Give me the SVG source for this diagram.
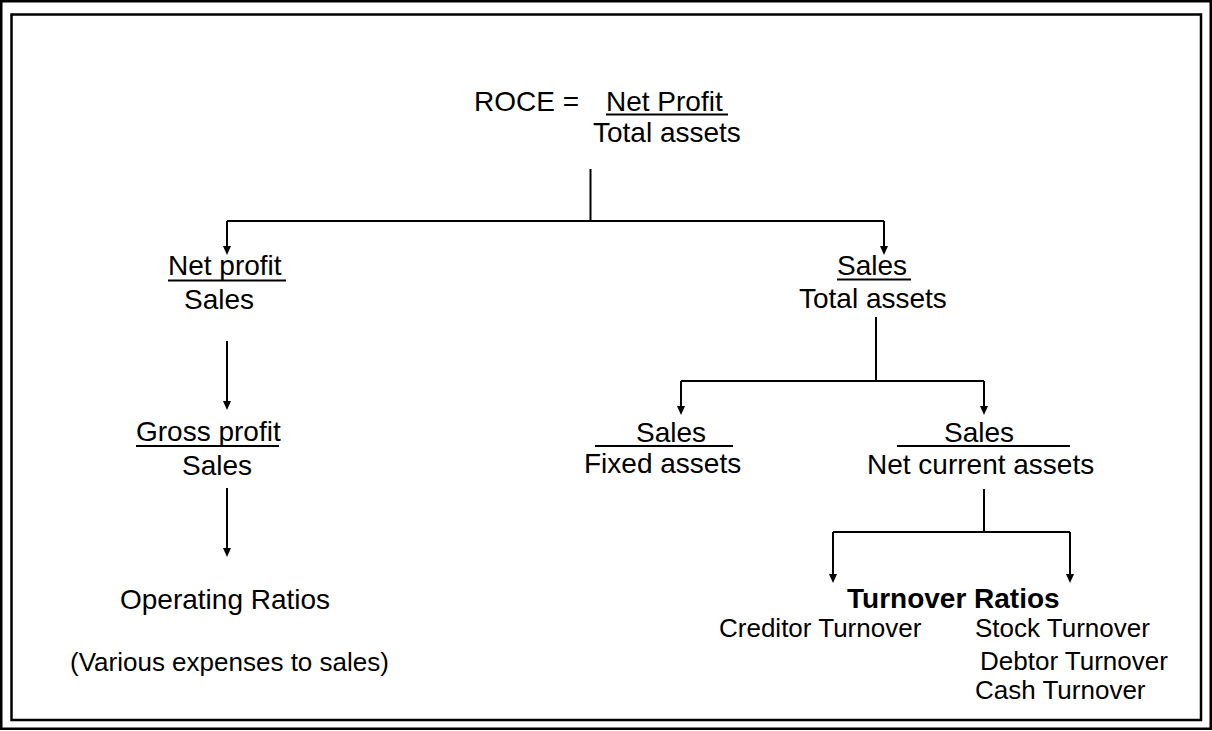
<svg xmlns="http://www.w3.org/2000/svg" width="1212" height="731" viewBox="0 0 1212 731">
<defs>
<marker id="arr" markerUnits="userSpaceOnUse" markerWidth="10" markerHeight="10" viewBox="0 0 10 10" refX="5" refY="10" orient="auto-start-reverse">
</marker>
<style>
text{font-family:"Liberation Sans",Arial,sans-serif;font-size:28px;fill:#000}
.s{font-size:26px}
.b{font-weight:bold}
.ln{stroke:#000;stroke-width:2;fill:none}
.ul{stroke:#000;stroke-width:2}
.ah{fill:#000}
.frame{fill:none;stroke:#000;stroke-width:2.5}
</style>
</defs>
<rect class="frame" x="1.25" y="1.25" width="1209.5" height="727.5"/>
<rect class="frame" x="11.5" y="14.5" width="1189.5" height="705.5"/>

<g id="connectors">
<path class="ln" d="M590.5 169 V221 M227 221 H884 M227 221 V247 M884 221 V247"/>
<polygon class="ah" points="223,246 231,246 227,255"/>
<polygon class="ah" points="880,246 888,246 884,255"/>
<path class="ln" d="M227 341 V402"/>
<polygon class="ah" points="223,401 231,401 227,410"/>
<path class="ln" d="M227 488 V549"/>
<polygon class="ah" points="223,548 231,548 227,557"/>
<path class="ln" d="M876 317 V381 M681 381 H984 M681 381 V407 M984 381 V407"/>
<polygon class="ah" points="677,406 685,406 681,415"/>
<polygon class="ah" points="980,406 988,406 984,415"/>
<path class="ln" d="M984 489 V532 M833 532 H1070 M833 532 V575 M1070 532 V575"/>
<polygon class="ah" points="829,574 837,574 833,583"/>
<polygon class="ah" points="1066,574 1074,574 1070,583"/>
</g>

<g id="roce">
<text x="474" y="111">ROCE =</text>
<text x="606" y="111">Net Profit</text>
<line class="ul" x1="606" y1="114.5" x2="728" y2="114.5"/>
<text x="593" y="142">Total assets</text>
</g>

<g id="net-profit-sales">
<text x="168" y="275">Net profit</text>
<line class="ul" x1="168" y1="280.5" x2="286" y2="280.5"/>
<text x="184" y="309">Sales</text>
</g>

<g id="gross-profit-sales">
<text x="136" y="441">Gross profit</text>
<line class="ul" x1="136" y1="446" x2="279" y2="446"/>
<text x="182" y="475">Sales</text>
</g>

<g id="operating-ratios">
<text x="120" y="609">Operating Ratios</text>
<text class="s" x="70" y="671">(Various expenses to sales)</text>
</g>

<g id="sales-total-assets">
<text x="837" y="275">Sales</text>
<line class="ul" x1="837" y1="279.5" x2="911" y2="279.5"/>
<text x="799" y="308">Total assets</text>
</g>

<g id="sales-fixed-assets">
<text x="636" y="442">Sales</text>
<line class="ul" x1="595" y1="446" x2="733" y2="446"/>
<text x="584" y="473">Fixed assets</text>
</g>

<g id="sales-net-current-assets">
<text x="944" y="442">Sales</text>
<line class="ul" x1="897" y1="446" x2="1070" y2="446"/>
<text x="867" y="474">Net current assets</text>
</g>

<g id="turnover-ratios">
<text class="b" x="847" y="608">Turnover Ratios</text>
<text class="s" x="719" y="637">Creditor Turnover</text>
<text class="s" x="975" y="637">Stock Turnover</text>
<text class="s" x="980" y="670">Debtor Turnover</text>
<text class="s" x="975" y="699">Cash Turnover</text>
</g>
</svg>
